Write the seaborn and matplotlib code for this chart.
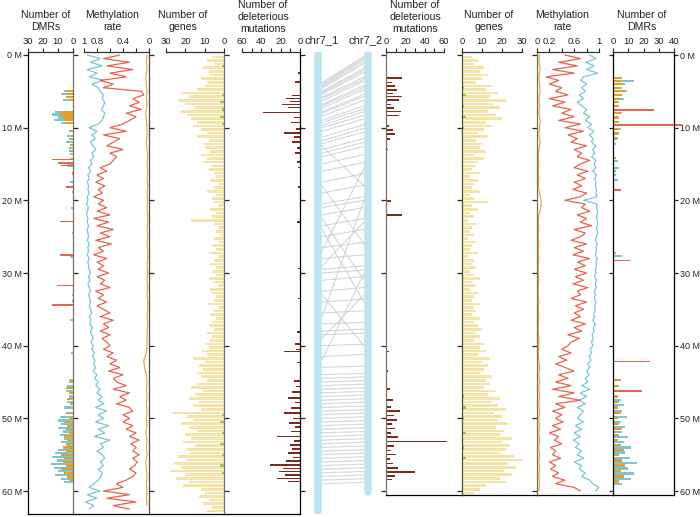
import numpy as np
import pandas as pd
import seaborn as sns
import matplotlib.pyplot as plt

# ---------------- data (positions in Mb) ----------------
# methylation rate, 0.5 Mb steps
meth_left_pos = np.arange(0, 63, 0.5)
meth_left_red = [0.45, 0.7, 0.3, 0.65, 0.25, 0.6, 0.35, 0.75, 0.55, 0.7,
                 0.12, 0.08, 0.25, 0.15, 0.3, 0.12, 0.35, 0.2, 0.3, 0.4,
                 0.6, 0.35, 0.7, 0.45, 0.55, 0.65, 0.4, 0.6, 0.5, 0.55,
                 0.6, 0.75, 0.65, 0.8, 0.7, 0.82, 0.68, 0.78, 0.72, 0.85,
                 0.7, 0.78, 0.65, 0.8, 0.6, 0.85, 0.62, 0.8, 0.55, 0.75,
                 0.6, 0.82, 0.58, 0.78, 0.7, 0.85, 0.65, 0.8, 0.7, 0.78,
                 0.62, 0.8, 0.68, 0.75, 0.6, 0.82, 0.7, 0.78, 0.65, 0.8,
                 0.7, 0.6, 0.75, 0.55, 0.7, 0.62, 0.75, 0.6, 0.72, 0.65,
                 0.6, 0.7, 0.55, 0.65, 0.5, 0.6, 0.45, 0.62, 0.4, 0.55,
                 0.5, 0.35, 0.55, 0.3, 0.45, 0.35, 0.5, 0.3, 0.25, 0.4,
                 0.3, 0.4, 0.25, 0.35, 0.2, 0.3, 0.15, 0.28, 0.2, 0.25,
                 0.15, 0.25, 0.18, 0.22, 0.3, 0.2, 0.25, 0.35, 0.5, 0.4,
                 0.7, 0.3, 0.65, 0.2, 0.55, 0.3]
meth_left_cyan = [0.95, 0.75, 0.9, 0.72, 0.95, 0.8, 0.92, 0.7, 0.88, 0.78,
                  0.75, 0.7, 0.72, 0.68, 0.7, 0.73, 0.68, 0.7, 0.72, 0.78,
                  0.92, 0.8, 0.88, 0.83, 0.9, 0.86, 0.82, 0.88, 0.85, 0.9,
                  0.88, 0.93, 0.9, 0.94, 0.92, 0.95, 0.93, 0.94, 0.92, 0.95,
                  0.94, 0.96, 0.93, 0.95, 0.96, 0.94, 0.95, 0.93, 0.95, 0.94,
                  0.93, 0.95, 0.92, 0.94, 0.93, 0.95, 0.92, 0.94, 0.93, 0.92,
                  0.9, 0.93, 0.91, 0.94, 0.92, 0.9, 0.93, 0.91, 0.9, 0.92,
                  0.9, 0.88, 0.92, 0.89, 0.91, 0.87, 0.9, 0.88, 0.86, 0.89,
                  0.86, 0.88, 0.84, 0.87, 0.83, 0.85, 0.82, 0.86, 0.8, 0.84,
                  0.78, 0.82, 0.75, 0.8, 0.72, 0.78, 0.7, 0.82, 0.65, 0.78,
                  0.7, 0.82, 0.62, 0.78, 0.68, 0.84, 0.6, 0.75, 0.7, 0.8,
                  0.72, 0.68, 0.75, 0.7, 0.78, 0.72, 0.74, 0.78, 0.85, 0.92,
                  0.75, 0.95, 0.8, 0.98, 0.85, 0.92]
meth_left_orange_pos = np.arange(0, 63, 1.0)
meth_left_orange = [0.03, 0.04, 0.03, 0.05, 0.04, 0.03, 0.04, 0.03, 0.05, 0.04,
                    0.03, 0.03, 0.04, 0.03, 0.02, 0.03, 0.02, 0.03, 0.02, 0.03,
                    0.02, 0.03, 0.02, 0.02, 0.03, 0.02, 0.03, 0.02, 0.02, 0.03,
                    0.02, 0.03, 0.02, 0.03, 0.02, 0.02, 0.03, 0.02, 0.03, 0.03,
                    0.03, 0.04, 0.08, 0.07, 0.04, 0.03, 0.04, 0.03, 0.04, 0.03,
                    0.04, 0.03, 0.05, 0.03, 0.04, 0.03, 0.05, 0.04, 0.03, 0.04,
                    0.03, 0.04, 0.03]

meth_right_pos = np.arange(0, 60.5, 0.5)
meth_right_red = [0.45, 0.7, 0.35, 0.65, 0.25, 0.6, 0.15, 0.35, 0.2, 0.4,
                  0.3, 0.5, 0.2, 0.45, 0.25, 0.55, 0.4, 0.6, 0.35, 0.7,
                  0.45, 0.75, 0.5, 0.65, 0.55, 0.8, 0.6, 0.72, 0.65, 0.85,
                  0.7, 0.6, 0.82, 0.65, 0.78, 0.6, 0.72, 0.58, 0.8, 0.7,
                  0.45, 0.78, 0.72, 0.85, 0.65, 0.8, 0.7, 0.88, 0.6, 0.78,
                  0.7, 0.55, 0.8, 0.6, 0.75, 0.58, 0.85, 0.65, 0.78, 0.6,
                  0.8, 0.62, 0.75, 0.58, 0.82, 0.65, 0.7, 0.55, 0.8, 0.62,
                  0.75, 0.6, 0.7, 0.55, 0.78, 0.6, 0.72, 0.5, 0.68, 0.55,
                  0.5, 0.4, 0.55, 0.35, 0.48, 0.3, 0.45, 0.6, 0.35, 0.5,
                  0.3, 0.55, 0.25, 0.6, 0.35, 0.7, 0.3, 0.45, 0.25, 0.4,
                  0.3, 0.42, 0.25, 0.38, 0.2, 0.35, 0.28, 0.4, 0.22, 0.3,
                  0.25, 0.38, 0.2, 0.3, 0.22, 0.35, 0.25, 0.45, 0.3, 0.6,
                  0.7]
meth_right_cyan = [0.85, 0.95, 0.78, 0.92, 0.8, 0.98, 0.75, 0.7, 0.8, 0.72,
                   0.78, 0.68, 0.75, 0.65, 0.72, 0.8, 0.75, 0.85, 0.78, 0.88,
                   0.82, 0.92, 0.85, 0.9, 0.88, 0.95, 0.9, 0.93, 0.88, 0.95,
                   0.92, 0.95, 0.9, 0.96, 0.93, 0.95, 0.94, 0.96, 0.95, 0.97,
                   0.75, 0.97, 0.96, 0.98, 0.97, 0.96, 0.98, 0.97, 0.96, 0.98,
                   0.96, 0.94, 0.97, 0.95, 0.96, 0.94, 0.97, 0.95, 0.96, 0.94,
                   0.95, 0.93, 0.96, 0.94, 0.95, 0.93, 0.94, 0.92, 0.95, 0.93,
                   0.94, 0.92, 0.93, 0.9, 0.94, 0.91, 0.92, 0.89, 0.91, 0.88,
                   0.9, 0.86, 0.88, 0.84, 0.87, 0.82, 0.85, 0.8, 0.84, 0.78,
                   0.82, 0.72, 0.85, 0.7, 0.8, 0.68, 0.78, 0.65, 0.75, 0.7,
                   0.65, 0.75, 0.62, 0.72, 0.6, 0.7, 0.58, 0.68, 0.62, 0.72,
                   0.65, 0.75, 0.6, 0.72, 0.68, 0.78, 0.72, 0.85, 0.9, 1.0,
                   0.95]
meth_right_orange_pos = np.arange(0, 61, 1.0)
meth_right_orange = [0.04, 0.03, 0.05, 0.03, 0.04, 0.05, 0.03, 0.04, 0.03, 0.05,
                     0.04, 0.03, 0.05, 0.03, 0.02, 0.03, 0.02, 0.03, 0.02, 0.04,
                     0.07, 0.06, 0.03, 0.02, 0.03, 0.02, 0.03, 0.02, 0.03, 0.02,
                     0.02, 0.03, 0.02, 0.02, 0.03, 0.02, 0.03, 0.02, 0.02, 0.03,
                     0.03, 0.02, 0.03, 0.04, 0.03, 0.04, 0.03, 0.04, 0.03, 0.04,
                     0.03, 0.04, 0.03, 0.04, 0.03, 0.04, 0.03, 0.04, 0.03, 0.04,
                     0.03]

# number of genes, 0.5 Mb bins
genes_left_pos = np.arange(0.25, 63, 0.5)
genes_left = [6, 9, 5, 11, 8, 7, 12, 9, 10, 14,
              22, 18, 24, 20, 15, 23, 19, 17, 14, 16,
              12, 9, 14, 8, 11, 10, 7, 12, 9, 11,
              6, 8, 5, 4, 7, 3, 5, 9, 4, 6,
              5, 3, 7, 4, 6, 17, 5, 3, 4, 2,
              5, 3, 6, 4, 8, 3, 5, 7, 4, 6,
              4, 8, 5, 3, 7, 6, 4, 5, 9, 3,
              5, 7, 4, 6, 8, 5, 9, 6, 7, 10,
              8, 12, 9, 16, 10, 13, 11, 14, 12, 9,
              14, 17, 11, 15, 18, 13, 16, 12, 27, 19,
              16, 22, 18, 14, 20, 17, 21, 15, 19, 18,
              24, 19, 26, 22, 28, 20, 25, 18, 21, 12,
              10, 13, 8, 11, 6, 9]
genes_right_pos = np.arange(0.25, 60.5, 0.5)
genes_right = [5, 8, 6, 11, 9, 13, 10, 7, 15, 12,
               18, 14, 22, 16, 19, 13, 17, 20, 12, 15,
               11, 8, 13, 7, 10, 9, 12, 6, 11, 8,
               7, 5, 9, 4, 8, 6, 5, 9, 4, 6,
               13, 5, 8, 4, 6, 3, 7, 5, 4, 6,
               3, 7, 5, 4, 8, 3, 6, 5, 7, 4,
               6, 9, 5, 7, 4, 8, 6, 5, 9, 6,
               7, 5, 9, 6, 8, 10, 7, 9, 6, 11,
               9, 12, 8, 14, 10, 13, 11, 9, 15, 12,
               14, 11, 17, 13, 19, 15, 18, 22, 16, 20,
               18, 23, 17, 21, 19, 25, 20, 24, 22, 19,
               26, 30, 23, 27, 21, 25, 19, 22, 12, 9,
               6]
green_left_pos = [1.5, 5.5, 6.5, 7.5, 8.5, 9.5, 49.5, 50.5, 52.0, 53.5, 55.0, 56.5, 57.5]
green_left = [1, 1, 2, 1, 2, 1, 1, 2, 1, 2, 1, 2, 1]
green_right_pos = [4.5, 5.5, 7.0, 8.5, 10.0, 47.0, 48.5, 50.0, 52.0, 54.0, 55.5]
green_right = [1, 2, 1, 2, 1, 1, 2, 1, 2, 1, 2]

# deleterious mutations
del_left_pos = [2.5, 3.7, 5.6, 6.0, 6.4, 6.8, 7.2, 7.9, 8.6, 9.3,
                10.2, 10.7, 11.3, 12.0, 12.8, 13.5, 14.7, 15.5, 18.2, 23.0,
                29.4, 33.5, 38.1, 39.8, 40.5, 40.8, 42.3, 44.9, 45.6, 46.4,
                47.2, 47.8, 48.6, 49.3, 50.0, 50.6, 51.2, 51.8, 52.5, 53.1,
                53.7, 54.2, 54.8, 55.4, 55.9, 56.4, 56.9, 57.3, 57.8, 58.3, 58.7]
del_left = [2, 5, 8, 14, 10, 19, 12, 38, 6, 9,
            4, 17, 6, 8, 3, 5, 3, 2, 2, 3,
            2, 2, 3, 5, 4, 17, 3, 6, 4, 8,
            12, 5, 9, 17, 7, 11, 5, 9, 24, 6,
            10, 8, 12, 7, 14, 31, 18, 22, 15, 24, 12]
del_right_pos = [3.2, 3.8, 4.3, 4.8, 5.3, 5.7, 6.2, 6.8, 7.3, 7.8,
                 8.3, 9.8, 10.3, 10.9, 11.6, 13.0, 20.1, 22.0, 40.8, 43.5,
                 46.0, 47.5, 48.4, 49.0, 49.6, 50.2, 50.8, 51.4, 52.0, 52.6,
                 53.2, 53.8, 54.4, 55.0, 55.6, 56.2, 56.8, 57.4, 57.9, 58.4]
del_right = [17, 6, 9, 11, 7, 17, 13, 5, 8, 15,
             13, 3, 7, 9, 4, 2, 5, 17, 3, 2,
             4, 7, 5, 14, 8, 11, 6, 9, 5, 12,
             63, 8, 5, 10, 4, 7, 12, 30, 9, 6]

# DMRs
dmr_left_cyan_pos = [5.0, 5.4, 5.8, 6.2, 7.8, 8.2, 8.6, 9.0, 9.4, 10.5, 11.2, 12.0, 12.8, 13.6,
                     15.2, 17.5, 21.0, 24.5, 27.8, 33.0, 36.5, 41.0, 44.8, 45.5, 46.2, 47.0,
                     47.8, 48.5, 49.3, 49.8, 50.3, 50.8, 51.3, 51.8, 52.3, 52.8, 53.3, 53.8,
                     54.3, 54.8, 55.3, 55.8, 56.3, 56.8, 57.3, 57.8, 58.3, 58.8]
dmr_left_cyan = [6, 8, 5, 7, 12, 14, 10, 13, 8, 3, 4, 5, 3, 2,
                 4, 2, 1.5, 1, 2, 1, 2, 1.5, 3, 4, 5, 3,
                 4, 6, 3, 9, 10, 8, 10, 7, 9, 6, 8, 5,
                 10, 12, 14, 11, 15, 13, 10, 12, 8, 6]
dmr_left_orange_pos = [5.0, 5.4, 5.8, 6.2, 7.8, 8.2, 8.6, 9.0, 9.4, 10.5, 11.6, 12.4, 13.2, 14.3,
                       15.0, 16.3, 18.8, 27.5, 33.8, 45.0, 45.8, 46.5, 47.3, 48.0, 49.3, 50.0,
                       50.5, 51.0, 51.5, 52.0, 52.5, 53.0, 53.5, 54.0, 54.5, 55.0, 55.5, 56.0,
                       56.5, 57.0, 57.5, 58.0, 58.5]
dmr_left_orange = [4, 5, 4, 3, 8, 9, 7, 6, 5, 2, 3, 2, 3, 2,
                   3, 1, 1, 2, 1, 3, 5, 3, 4, 2, 5, 3,
                   6, 4, 5, 3, 6, 4, 5, 7, 5, 8, 6, 7,
                   5, 8, 6, 4, 3]
dmr_left_red_pos = [14.4, 14.9, 15.2, 18.2, 22.9, 27.5, 31.7, 34.4]
dmr_left_red = [14, 10, 8, 5, 9, 9, 11, 14]

dmr_right_cyan_pos = [3.2, 3.6, 4.0, 4.5, 5.0, 5.5, 6.0, 6.5, 7.6, 8.0, 8.6, 9.6, 10.2, 10.8,
                      11.5, 12.3, 14.6, 15.5, 16.5, 17.2, 27.7, 44.7, 46.2, 47.5, 48.2, 49.0,
                      49.8, 50.5, 51.2, 51.9, 52.6, 53.3, 54.0, 54.7, 55.4, 56.2, 56.9, 57.6,
                      58.3, 59.0]
dmr_right_cyan = [5, 14, 8, 6, 9, 5, 7, 4, 25, 6, 4, 30, 5, 4,
                  3, 2, 3, 4, 2, 3, 6, 3, 10, 5, 7, 6,
                  9, 5, 8, 6, 10, 7, 12, 8, 11, 16, 10, 14,
                  12, 6]
dmr_right_orange_pos = [3.2, 3.6, 4.0, 4.5, 5.0, 5.5, 6.0, 6.5, 7.0, 7.6, 8.0, 8.6, 9.2, 9.6,
                        10.2, 10.8, 11.5, 14.2, 16.0, 27.2, 44.7, 45.5, 46.2, 47.0, 47.8, 48.5,
                        49.3, 50.0, 50.8, 51.5, 52.3, 53.0, 53.7, 54.4, 55.0, 55.8, 56.5, 57.2,
                        58.0, 58.7]
dmr_right_orange = [6, 5, 7, 4, 8, 6, 5, 3, 4, 22, 5, 3, 4, 19,
                    4, 3, 2, 2, 2, 2, 5, 4, 8, 3, 4, 3,
                    5, 3, 4, 6, 4, 3, 5, 7, 4, 6, 8, 5,
                    7, 4]
dmr_right_red_pos = [7.6, 9.6, 18.6, 28.3, 42.2, 46.2]
dmr_right_red = [27, 45, 5, 11, 24, 19]

# syntenic anchors chr7_1 -> chr7_2
syn_chr1 = [3.8, 4.2, 4.6, 5.0, 5.4, 5.8, 6.3, 6.8, 7.3, 7.8,
            8.4, 9.0, 9.7, 10.5, 11.3, 12.2, 13.0, 14.0, 15.0, 16.0,
            17.5, 19.0, 20.5, 22.0, 23.5, 25.0, 26.5, 28.0, 29.5, 31.0,
            32.5, 34.0, 35.5, 37.0, 38.5, 40.0, 41.5, 43.0, 44.0, 45.0,
            46.0, 47.0, 48.0, 49.0, 50.0, 51.0, 52.0, 53.0, 54.0, 55.0,
            56.0, 57.0, 58.0, 59.0, 18.0, 27.0, 33.0, 42.0, 24.0, 36.0,
            4.0, 4.4, 5.2, 6.0, 7.0, 8.0, 9.3, 10.0, 11.8, 13.5,
            21.0, 30.0, 38.0, 44.5, 45.5, 46.5, 47.5, 48.5, 49.5, 50.5,
            51.5, 52.5, 53.5, 54.5, 55.5, 56.5, 57.5, 58.5, 22.5, 29.0, 12.5, 39.0]
syn_chr2 = [0.2, 0.6, 1.2, 1.8, 2.4, 3.0, 3.6, 4.2, 4.8, 5.4,
            6.2, 7.0, 7.8, 8.8, 9.6, 10.6, 11.5, 12.6, 13.7, 14.8,
            16.3, 17.9, 19.5, 21.0, 22.5, 24.0, 25.8, 27.5, 29.0, 30.5,
            32.0, 33.6, 35.2, 36.8, 38.3, 39.8, 41.2, 42.8, 43.8, 44.8,
            45.8, 46.8, 47.8, 48.8, 49.8, 50.8, 51.8, 52.8, 53.8, 54.8,
            55.8, 56.8, 57.8, 58.8, 26.0, 15.5, 40.0, 30.0, 34.0, 20.0,
            0.4, 0.9, 2.1, 3.3, 4.5, 5.7, 7.4, 8.3, 10.1, 12.0,
            20.0, 29.6, 37.7, 44.3, 45.3, 46.3, 47.3, 48.3, 49.3, 50.3,
            51.3, 52.3, 53.3, 54.3, 55.3, 56.3, 57.3, 58.3, 31.0, 23.0, 18.0, 33.0]

# ---------------- styling ----------------
RED = '#e5654f'
CYAN = '#7cc6d2'
ORANGE = '#e0a030'
YELLOW = '#f6e3a6'
GREEN = '#9cc94a'
BROWN = '#7d2a1f'
BASE = '#7a7060'
CHROM = '#bfe4f0'

sns.set_theme(style="white")
plt.rcParams['font.family'] = ['Liberation Sans', 'DejaVu Sans']

W, H = 700, 517
fig = plt.figure(figsize=(7, 5.17), dpi=100)

PX_PER_M = 7.267
Y0 = 55
TOP = 52
BOT_L = 514
BOT_R = 495


def panel(x0, x1, bottom, xlim):
    ax = fig.add_axes([x0 / W, 1 - bottom / H, (x1 - x0) / W, (bottom - TOP) / H])
    ax.set_ylim((bottom - Y0) / PX_PER_M, (TOP - Y0) / PX_PER_M)
    ax.set_xlim(*xlim)
    ax.set_facecolor('none')
    for s in ax.spines.values():
        s.set_visible(False)
        s.set_linewidth(0.9)
    ax.set_yticks(range(0, 70, 10))
    ax.tick_params(axis='y', length=3.5, width=0.9, labelsize=6.5, pad=1,
                   left=False, right=False, labelleft=False, labelright=False)
    ax.xaxis.tick_top()
    ax.tick_params(axis='x', length=3, width=0.8, labelsize=6.8, pad=1, colors='#222222')
    ax.spines['bottom'].set_visible(True)
    ax.spines['bottom'].set_color('black')
    ax.spines['top'].set_visible(True)
    ax.spines['top'].set_color('#333333')
    ax.grid(False)
    return ax


def top_axis(ax, ticks, labels, lo, hi):
    ax.set_xticks(ticks)
    ax.set_xticklabels(labels)
    ax.spines['top'].set_bounds(lo, hi)


def bars(ax, pos, vals, color, h):
    ax.barh(pos, vals, height=h, left=0, color=color, linewidth=0, clip_on=False)


def lines(ax, pos, vals, color, lw=0.9):
    df = pd.DataFrame({'pos': pos, 'val': vals})
    sns.lineplot(data=df, x='val', y='pos', orient='y', estimator=None, sort=True,
                 color=color, lw=lw, ax=ax)
    ax.set_xlabel('')
    ax.set_ylabel('')


# ---------------- left side ----------------
ax1 = panel(28, 73, BOT_L, (30, 0))
bars(ax1, dmr_left_cyan_pos, dmr_left_cyan, CYAN, 0.3)
bars(ax1, dmr_left_orange_pos, dmr_left_orange, ORANGE, 0.3)
bars(ax1, dmr_left_red_pos, dmr_left_red, RED, 0.22)
top_axis(ax1, [30, 20, 10, 0], ['30', '20', '10', '0'], 0, 30)
ax1.spines['left'].set_visible(True)
ax1.spines['left'].set_color('black')
ax1.spines['right'].set_visible(True)
ax1.spines['right'].set_color(BASE)
ax1.tick_params(axis='y', left=True, right=True, labelleft=True, direction='out')
ax1.set_yticklabels([f'{v} M' for v in range(0, 70, 10)])

ax2 = panel(73, 149, BOT_L, (1.169, 0))
lines(ax2, meth_left_pos, meth_left_cyan, CYAN)
lines(ax2, meth_left_pos, meth_left_red, RED)
lines(ax2, meth_left_orange_pos, meth_left_orange, ORANGE, 0.8)
ax2.set_xlim(1.169, 0)
top_axis(ax2, [1, 0.8, 0.6, 0.4, 0.2, 0], ['1', '0.8', '', '0.4', '', '0'], 0, 1)
ax2.spines['right'].set_visible(True)
ax2.spines['right'].set_color('#554c3c')
ax2.tick_params(axis='y', right=True, direction='out')

ax3 = panel(149, 224, BOT_L, (38.8, 0))
bars(ax3, genes_left_pos, genes_left, YELLOW, 0.36)
bars(ax3, green_left_pos, green_left, GREEN, 0.3)
top_axis(ax3, [30, 20, 10, 0], ['30', '20', '10', '0'], 0, 30)
ax3.spines['right'].set_visible(True)
ax3.spines['right'].set_color(BASE)
ax3.tick_params(axis='y', right=True, direction='out')

ax4 = panel(224, 300, BOT_L, (78.6, 0))
bars(ax4, del_left_pos, del_left, BROWN, 0.22)
top_axis(ax4, [60, 50, 40, 30, 20, 10, 0], ['60', '', '40', '', '20', '', '0'], 0, 60)
ax4.spines['right'].set_visible(True)
ax4.spines['right'].set_color('black')
ax4.tick_params(axis='y', right=True, direction='out')

# ---------------- synteny ----------------
axm = fig.add_axes([300 / W, 1 - BOT_L / H, 86 / W, (BOT_L - TOP) / H])
axm.set_xlim(300, 386)
axm.set_ylim((BOT_L - Y0) / PX_PER_M, (TOP - Y0) / PX_PER_M)
axm.axis('off')
for a, b in zip(syn_chr1, syn_chr2):
    axm.plot([322, 364], [a, b], color='#cfcfcf', lw=0.8, alpha=0.85)
axm.plot([318, 318], [-0.2, 62.8], color=CHROM, lw=5.5, solid_capstyle='round')
axm.plot([368, 368], [-0.2, 60.2], color=CHROM, lw=5.5, solid_capstyle='round')
fig.text(322 / W, 1 - 40 / H, 'chr7_1', ha='center', va='center', fontsize=8)
fig.text(366 / W, 1 - 40 / H, 'chr7_2', ha='center', va='center', fontsize=8)

# ---------------- right side ----------------
ax5 = panel(386, 462, BOT_R, (0, 78.6))
bars(ax5, del_right_pos, del_right, BROWN, 0.22)
top_axis(ax5, [0, 10, 20, 30, 40, 50, 60], ['0', '', '20', '', '40', '', '60'], 0, 60)
ax5.spines['left'].set_visible(True)
ax5.spines['left'].set_color(BASE)
ax5.tick_params(axis='y', left=True, direction='out')

ax6 = panel(462, 537, BOT_R, (0, 37.5))
bars(ax6, genes_right_pos, genes_right, YELLOW, 0.36)
bars(ax6, green_right_pos, green_right, GREEN, 0.3)
top_axis(ax6, [0, 10, 20, 30], ['0', '10', '20', '30'], 0, 30)
ax6.spines['left'].set_visible(True)
ax6.spines['left'].set_color('#554c3c')
ax6.tick_params(axis='y', left=True, direction='out')

ax7 = panel(537, 613, BOT_R, (0, 1.226))
lines(ax7, meth_right_pos, meth_right_cyan, CYAN)
lines(ax7, meth_right_pos, meth_right_red, RED)
lines(ax7, meth_right_orange_pos, meth_right_orange, ORANGE, 0.8)
ax7.set_xlim(0, 1.226)
top_axis(ax7, [0, 0.2, 0.4, 0.6, 0.8, 1], ['0', '0.2', '', '0.6', '', '1'], 0, 1)
ax7.spines['left'].set_visible(True)
ax7.spines['left'].set_color(BASE)
ax7.tick_params(axis='y', left=True, direction='out')

ax8 = panel(613, 674, BOT_R, (0, 40))
bars(ax8, dmr_right_cyan_pos, dmr_right_cyan, CYAN, 0.3)
bars(ax8, dmr_right_orange_pos, dmr_right_orange, ORANGE, 0.3)
bars(ax8, dmr_right_red_pos, dmr_right_red, RED, 0.22)
top_axis(ax8, [0, 10, 20, 30, 40], ['0', '10', '20', '30', '40'], 0, 40)
ax8.spines['left'].set_visible(True)
ax8.spines['left'].set_color('black')
ax8.spines['right'].set_visible(True)
ax8.spines['right'].set_color('black')
ax8.tick_params(axis='y', left=True, right=True, labelright=True, direction='out', length=3)
ax8.set_yticklabels([f'{v} M' for v in range(0, 70, 10)])

# ---------------- titles ----------------
titles = [(46, 21, 'Number of\nDMRs'), (112, 21, 'Methylation\nrate'),
          (183, 21, 'Number of\ngenes'), (263, 17, 'Number of\ndeleterious\nmutations'),
          (415, 17, 'Number of\ndeleterious\nmutations'), (489, 21, 'Number of\ngenes'),
          (562, 21, 'Methylation\nrate'), (642, 21, 'Number of\nDMRs')]
for x, y, t in titles:
    fig.text(x / W, 1 - y / H, t, ha='center', va='center', fontsize=7.6,
             linespacing=1.2, color='#222222')

fig.savefig('out.png', dpi=100)
